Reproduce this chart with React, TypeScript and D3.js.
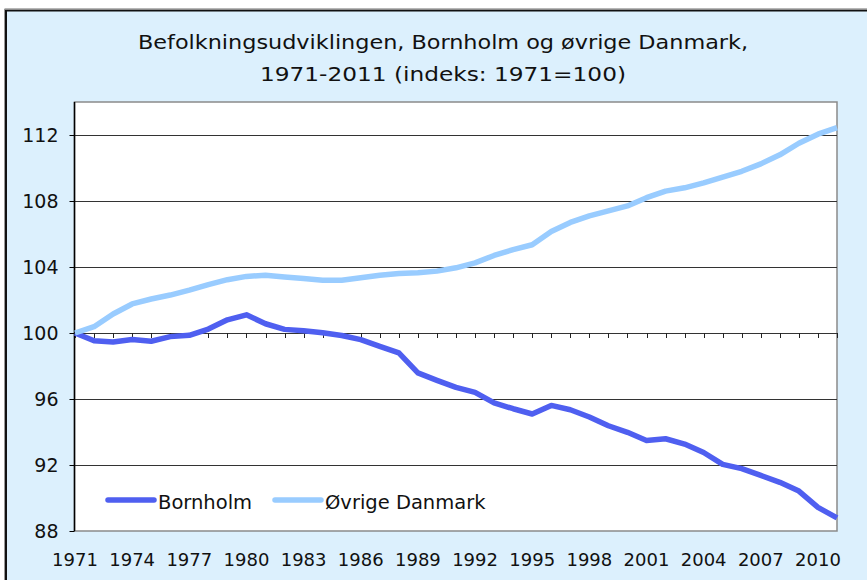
import React from "react";
import * as d3 from "d3";

const years: number[] = d3.range(1971, 2012);
const bornholm: number[] = [
  100, 99.53, 99.45, 99.6, 99.5, 99.78, 99.86, 100.24, 100.8, 101.1,
  100.56, 100.22, 100.14, 100.02, 99.85, 99.6, 99.19, 98.79, 97.58, 97.13,
  96.7, 96.4, 95.76, 95.41, 95.09, 95.61, 95.35, 94.91, 94.38, 93.98,
  93.49, 93.59, 93.27, 92.76, 92.04, 91.78, 91.37, 90.95, 90.42, 89.43,
  88.79,
];
const ovrige: number[] = [
  100, 100.38, 101.15, 101.76, 102.06, 102.3, 102.6, 102.93, 103.23, 103.43,
  103.5, 103.4, 103.3, 103.2, 103.2, 103.35, 103.5, 103.6, 103.65, 103.75,
  103.95, 104.25, 104.7, 105.05, 105.35, 106.15, 106.7, 107.1, 107.4, 107.7,
  108.2, 108.6, 108.8, 109.1, 109.45, 109.8, 110.25, 110.8, 111.5, 112.05,
  112.45,
];
const yTicks: number[] = [88, 92, 96, 100, 104, 108, 112];
const xLabelYears: number[] = d3.range(1971, 2012, 3);
const seriesNames: string[] = ["Bornholm", "Øvrige Danmark"];
const titleLines: string[] = [
  "Befolkningsudviklingen, Bornholm og øvrige Danmark,",
  "1971-2011 (indeks: 1971=100)",
];

const W = 867;
const H = 580;
const plot = { left: 74.5, right: 837, top: 102, bottom: 531 };
const colors = ["#4f5ff0", "#99ccff"];
const axisFont = "'DejaVu Sans', Verdana, sans-serif";

export default function App() {
  const x = d3.scaleLinear().domain([1971, 2011]).range([75, 837]);
  const y = d3.scaleLinear().domain([88, 114]).range([plot.bottom, plot.top]);
  const line = d3
    .line<number>()
    .x((_, i) => x(years[i]))
    .y((d) => y(d));
  const y100 = y(100);

  return (
    <svg
      width={W}
      height={H}
      style={{ position: "absolute", left: 0, top: 0, background: "#fff" }}
    >
      <rect x={6} y={10.5} width={W + 20} height={H + 20} fill="#dcf0fd" stroke="#111" strokeWidth={2} />
      <line x1={4.5} y1={9} x2={4.5} y2={H} stroke="#999" strokeWidth={1} />
      <line x1={4.5} y1={8.8} x2={W} y2={8.8} stroke="#999" strokeWidth={1} />

      {titleLines.map((t, i) => (
        <text
          key={i}
          x={443}
          y={49 + i * 32}
          textAnchor="middle"
          fontFamily="'DejaVu Sans Condensed', Tahoma, 'DejaVu Sans', sans-serif"
          fontSize={20}
          fill="#111"
          textLength={i === 0 ? 610 : 366}
          lengthAdjust="spacingAndGlyphs"
        >
          {t}
        </text>
      ))}

      <rect
        x={plot.left}
        y={plot.top}
        width={plot.right - plot.left}
        height={plot.bottom - plot.top}
        fill="#fff"
        stroke="#8a8a8a"
        strokeWidth={1.5}
      />

      {yTicks
        .filter((v) => v !== 100 && v !== 88)
        .map((v) => (
          <line key={v} x1={plot.left} x2={plot.right} y1={Math.round(y(v)) + 0.5} y2={Math.round(y(v)) + 0.5} stroke="#333" strokeWidth={1} />
        ))}

      {/* left axis */}
      <line x1={plot.left} x2={plot.left} y1={plot.top} y2={plot.bottom} stroke="#000" strokeWidth={1.5} />
      {yTicks.map((v) => (
        <g key={v}>
          <line x1={plot.left - 5} x2={plot.left} y1={Math.round(y(v)) + 0.5} y2={Math.round(y(v)) + 0.5} stroke="#000" />
          <text
            x={58.5}
            y={y(v) + 7.3}
            textAnchor="end"
            fontFamily={axisFont}
            fontSize={19}
            fill="#111"
          >
            {v}
          </text>
        </g>
      ))}

      {/* category axis at 100 */}
      <line x1={plot.left} x2={plot.right} y1={Math.round(y100) + 0.5} y2={Math.round(y100) + 0.5} stroke="#333" strokeWidth={1.2} />
      {years.map((yr) => (
        <line
          key={yr}
          x1={Math.round(x(yr)) + 0.5}
          x2={Math.round(x(yr)) + 0.5}
          y1={y100}
          y2={y100 + 5}
          stroke="#222"
        />
      ))}
      {xLabelYears.map((yr) => (
        <text
          key={yr}
          x={x(yr)}
          y={565.5}
          textAnchor="middle"
          fontFamily={axisFont}
          fontSize={18}
          fill="#111"
        >
          {yr}
        </text>
      ))}

      {[bornholm, ovrige].map((s, i) => (
        <path
          key={i}
          d={line(s) || ""}
          fill="none"
          stroke={colors[i]}
          strokeWidth={5.5}
          strokeLinejoin="round"
          strokeLinecap="butt"
        />
      ))}

      {/* legend */}
      {seriesNames.map((n, i) => {
        const lx = i === 0 ? 108 : 275;
        return (
          <g key={n}>
            <line x1={lx} x2={lx + 46} y1={500} y2={500} stroke={colors[i]} strokeWidth={5.5} strokeLinecap="round" />
            <text x={lx + 50} y={509} fontFamily={axisFont} fontSize={19.5} fill="#111">
              {n}
            </text>
          </g>
        );
      })}
    </svg>
  );
}
